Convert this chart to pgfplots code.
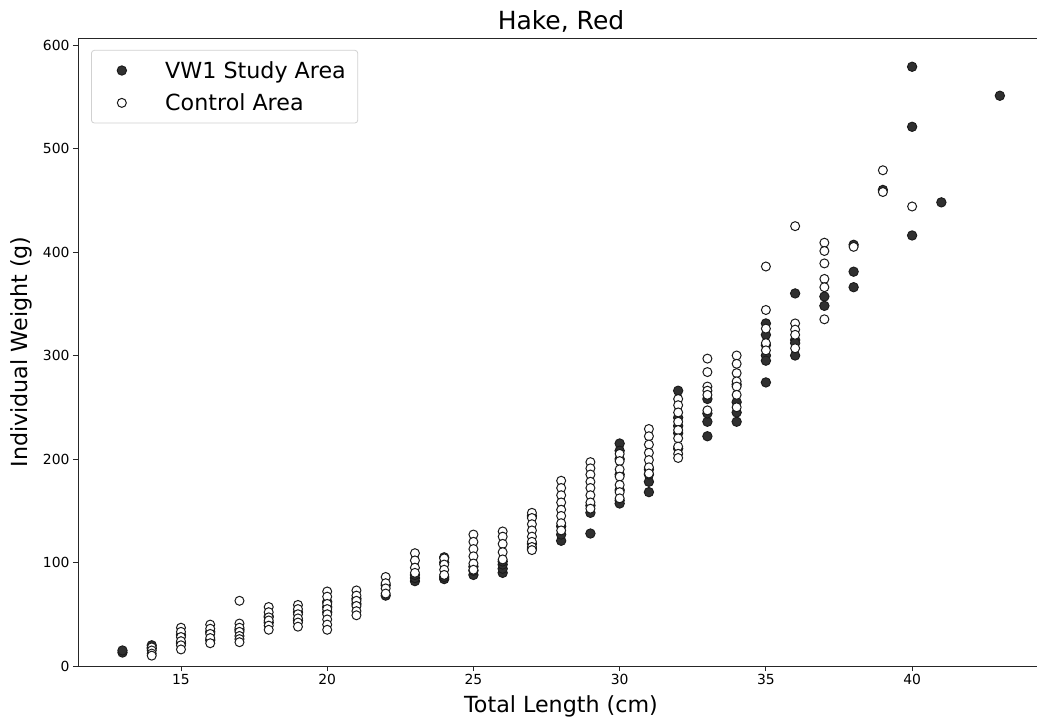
\documentclass[border=0pt]{standalone}
\usepackage{pgfplots}
\pgfplotsset{compat=1.18}
\usepackage{pgfplotstable}
\usepackage{fontspec}
\setmainfont{DejaVu Sans}
\definecolor{vwfill}{HTML}{303030}
\definecolor{edge}{HTML}{1A1A1A}

\pgfplotstableread{
x y
13 13
13 15
14 20
14 17
15 30
15 22
16 25
16 33
17 35
18 42
18 48
19 44
19 52
20 52
20 57
20 62
21 60
21 65
22 68
22 78
23 82
23 85
23 88
24 84
24 86
24 100
24 105
25 88
25 92
25 96
26 90
26 94
26 98
26 101
27 113
27 118
27 145
28 121
28 127
28 135
29 128
29 148
29 155
30 215
30 208
30 200
30 185
30 170
30 160
30 157
31 168
31 178
31 185
31 190
32 266
32 240
32 232
32 225
32 210
33 236
33 222
33 244
33 258
34 236
34 245
34 255
34 272
35 331
35 320
35 310
35 300
35 295
35 274
36 360
36 315
36 312
36 300
37 357
37 348
38 407
38 381
38 366
39 460
40 579
40 521
40 416
41 448
43 551
}\vwdata

\pgfplotstableread{
x y
14 18
14 15
14 12
14 10
15 37
15 33
15 28
15 24
15 20
15 16
16 40
16 36
16 31
16 27
16 22
17 63
17 41
17 37
17 33
17 29
17 26
17 23
18 57
18 52
18 47
18 44
18 39
18 35
19 59
19 55
19 50
19 46
19 42
19 38
20 72
20 67
20 60
20 55
20 50
20 45
20 40
20 35
21 73
21 68
21 63
21 58
21 53
21 49
22 86
22 80
22 75
22 70
23 109
23 102
23 95
23 90
24 104
24 98
24 93
24 88
25 127
25 120
25 113
25 106
25 99
25 93
26 130
26 125
26 118
26 110
26 103
27 148
27 143
27 137
27 131
27 125
27 120
27 115
27 112
28 179
28 172
28 165
28 158
28 151
28 145
28 138
28 131
29 197
29 191
29 185
29 178
29 172
29 165
29 158
29 152
30 205
30 198
30 190
30 183
30 175
30 168
30 162
31 229
31 222
31 214
31 206
31 199
31 192
31 186
32 258
32 252
32 245
32 236
32 228
32 220
32 212
32 205
32 201
33 297
33 284
33 270
33 266
33 262
33 247
34 300
34 292
34 283
34 275
34 270
34 262
34 250
35 386
35 344
35 326
35 312
35 305
36 425
36 331
36 325
36 320
36 307
37 409
37 401
37 389
37 374
37 366
37 335
38 405
39 479
39 458
40 444
}\ctrldata

\begin{document}
\begin{tikzpicture}
\useasboundingbox (-78pt,-55pt) rectangle (959pt,666pt);
\begin{axis}[
  at={(0pt,0pt)}, anchor=south west,
  scale only axis,
  width=959pt, height=628pt,
  xmin=11.479, xmax=44.27,
  ymin=0, ymax=606.8,
  axis x line=box, axis y line*=left,
  axis line style={line width=0.9pt, black!85},
  xtick={15,20,25,30,35,40},
  ytick={0,100,200,300,400,500,600},
  xtick pos=bottom, ytick pos=left,
  tick align=outside,
  major tick length=5pt,
  tick style={line width=0.9pt, black!85},
  tick label style={font=\fontsize{13.9}{16}\selectfont},
  /pgf/number format/assume math mode=true,
  xlabel={Total Length (cm)},
  ylabel={Individual Weight (g)},
  label style={font=\fontsize{22.2}{26}\selectfont},
  xlabel style={at={(axis description cs:0.5,0)}, anchor=south, yshift=-55pt, xshift=3.5pt},
  ylabel style={at={(axis description cs:-0.044,0.5)}, anchor=south},
  title={Hake, Red},
  title style={font=\fontsize{25}{30}\selectfont, at={(axis description cs:0.5,1)}, anchor=south, yshift=-4pt, xshift=3.5pt},
  legend image code/.code={\path (0pt,-1pt) (40pt,1pt); \draw[mark repeat=2,mark phase=2,#1] plot coordinates {(0pt,0pt) (20pt,0pt) (40pt,0pt)};},
  legend style={at={(axis description cs:0.0136,0.981)}, anchor=north west,
    draw=black!18, rounded corners=3pt, line width=0.8pt,
    font=\fontsize{22.2}{26}\selectfont,
    inner xsep=10pt, inner ysep=9pt, row sep=10pt,
    nodes={inner sep=2pt},
    /tikz/every odd column/.append style={column sep=21pt},
    /tikz/every even column/.append style={column sep=4pt}},
  legend cell align=left,
  clip=false,
]
\addplot[only marks, mark=*, mark size=4.7pt, mark options={fill=vwfill, draw=edge, line width=0.9pt}]
  table[x=x,y=y] {\vwdata};
\addlegendentry{VW1 Study Area}
\addplot[only marks, mark=*, mark size=4.5pt, mark options={fill=white, draw=edge, line width=1pt}]
  table[x=x,y=y] {\ctrldata};
\addlegendentry{Control Area}
\end{axis}
\end{tikzpicture}
\end{document}
